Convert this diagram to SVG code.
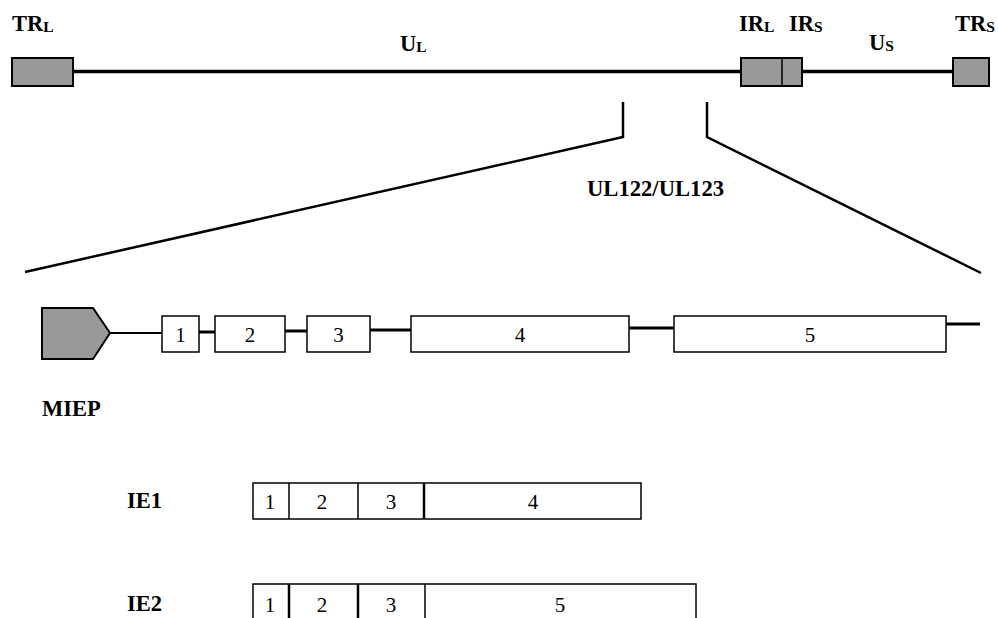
<svg xmlns="http://www.w3.org/2000/svg" width="998" height="618" viewBox="0 0 998 618">
<style>
.lbl{font-family:"Liberation Serif","Times New Roman",serif;font-weight:bold;font-size:22.5px;fill:#000}
.sub{font-size:15.5px}
.num{font-family:"Liberation Serif","Times New Roman",serif;font-size:21px;fill:#000;text-anchor:middle}
.grey{fill:#999;stroke:#000;stroke-width:2}
.box{fill:#fff;stroke:#000;stroke-width:1.5}
.ln{stroke:#000;fill:none}
</style>
<rect width="998" height="618" fill="#fff"/>
<g id="connectors">
<line class="ln" x1="73" y1="71.5" x2="740" y2="71.5" stroke-width="3.5"/>
<line class="ln" x1="802" y1="71.5" x2="953" y2="71.5" stroke-width="3.5"/>
<polyline class="ln" points="623,102 623,137 25,272" stroke-width="2.5"/>
<polyline class="ln" points="707,102 707,137 981,273" stroke-width="2.5"/>
<line class="ln" x1="110" y1="333" x2="162" y2="333" stroke-width="2"/>
<line class="ln" x1="199" y1="332" x2="215" y2="332" stroke-width="3"/>
<line class="ln" x1="285" y1="331" x2="307" y2="331" stroke-width="3"/>
<line class="ln" x1="370" y1="330" x2="411" y2="330" stroke-width="3"/>
<line class="ln" x1="629" y1="328" x2="674" y2="328" stroke-width="3"/>
<line class="ln" x1="946" y1="324" x2="980" y2="324" stroke-width="3"/>
</g>
<g id="genome">
<g id="TRL"><rect class="grey" x="12" y="58" width="61" height="28"/><text class="lbl" x="12" y="31">TR<tspan class="sub" dy="1">L</tspan></text></g>
<text id="UL" class="lbl" x="400" y="51">U<tspan class="sub" dy="1">L</tspan></text>
<g id="IR"><rect class="grey" x="741" y="58" width="61" height="28"/><line class="ln" x1="782" y1="58" x2="782" y2="86" stroke-width="1.5"/>
<text class="lbl" x="739" y="31">IR<tspan class="sub" dy="1">L</tspan></text><text class="lbl" x="789" y="31">IR<tspan class="sub" dy="1">S</tspan></text></g>
<text id="US" class="lbl" x="869" y="50">U<tspan class="sub" dy="1">S</tspan></text>
<g id="TRS"><rect class="grey" x="953" y="58" width="36" height="28"/><text class="lbl" x="955" y="31">TR<tspan class="sub" dy="1">S</tspan></text></g>
</g>
<text id="region" class="lbl" x="587" y="196" textLength="137" lengthAdjust="spacingAndGlyphs">UL122/UL123</text>
<g id="gene">
<g id="MIEP"><polygon class="grey" points="42,308 93,308 110,333 93,359 42,359"/><text class="lbl" x="42" y="416">MIEP</text></g>
<g id="ex1"><rect class="box" x="162" y="316" width="37" height="36"/><text class="num" x="180.5" y="342">1</text></g>
<g id="ex2"><rect class="box" x="215" y="316" width="70" height="36"/><text class="num" x="250" y="342">2</text></g>
<g id="ex3"><rect class="box" x="307" y="316" width="63" height="36"/><text class="num" x="338.5" y="342">3</text></g>
<g id="ex4"><rect class="box" x="411" y="316" width="218" height="36"/><text class="num" x="520" y="342">4</text></g>
<g id="ex5"><rect class="box" x="674" y="316" width="272" height="36"/><text class="num" x="810" y="342">5</text></g>
</g>
<g id="IE1">
<text class="lbl" x="127" y="508">IE1</text>
<rect class="box" x="253" y="483" width="388" height="36"/>
<line class="ln" x1="289" y1="483" x2="289" y2="519" stroke-width="1.5"/>
<line class="ln" x1="358" y1="483" x2="358" y2="519" stroke-width="1.5"/>
<line class="ln" x1="424" y1="483" x2="424" y2="519" stroke-width="2.5"/>
<text class="num" x="270" y="509">1</text><text class="num" x="322" y="509">2</text><text class="num" x="391" y="509">3</text><text class="num" x="533" y="509">4</text>
</g>
<g id="IE2">
<text class="lbl" x="127" y="611">IE2</text>
<rect class="box" x="253" y="584" width="443" height="40"/>
<line class="ln" x1="289" y1="584" x2="289" y2="618" stroke-width="2.5"/>
<line class="ln" x1="358" y1="584" x2="358" y2="618" stroke-width="2.5"/>
<line class="ln" x1="425" y1="584" x2="425" y2="618" stroke-width="1.5"/>
<text class="num" x="270" y="612">1</text><text class="num" x="322" y="612">2</text><text class="num" x="391" y="612">3</text><text class="num" x="560" y="612">5</text>
</g>
</svg>
